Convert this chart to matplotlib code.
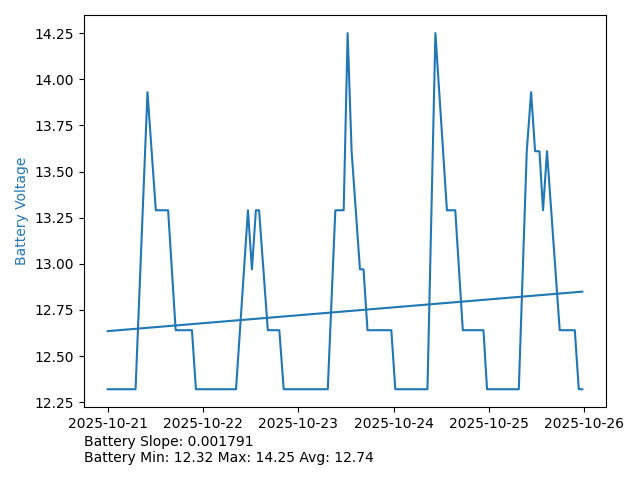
import datetime as dt
import matplotlib
matplotlib.use("Agg")
import matplotlib.pyplot as plt
import numpy as np

# battery voltage readings, hours since 2025-10-21 00:00
start = dt.datetime(2025, 10, 21)
hours = [0.0, 7.0, 10.0, 12.1, 15.2, 17.1, 21.2, 22.2, 32.3, 35.3, 36.3, 37.3, 38.1,
         40.3, 43.2, 44.3, 55.4, 57.3, 59.4, 60.4, 61.4, 63.5, 64.4, 65.4, 71.4,
         72.4, 80.5, 82.5, 85.4, 87.5, 89.4, 94.6, 95.5, 103.5, 105.5, 106.6,
         107.6, 108.7, 109.6, 110.6, 113.8, 117.6, 118.6, 119.5]
voltage = [12.32, 12.32, 13.93, 13.29, 13.29, 12.64, 12.64, 12.32, 12.32, 13.29, 12.97,
           13.29, 13.29, 12.64, 12.64, 12.32, 12.32, 13.29, 13.29, 14.25, 13.61, 12.97,
           12.97, 12.64, 12.64, 12.32, 12.32, 14.25, 13.29, 13.29, 12.64, 12.64, 12.32,
           12.32, 13.61, 13.93, 13.61, 13.61, 13.29, 13.61, 12.64, 12.64, 12.32, 12.32]

# linear trend (per hour)
slope = 0.001791
intercept = 12.635
v_min, v_max, v_avg = 12.32, 14.25, 12.74

times = [start + dt.timedelta(hours=h) for h in hours]
trend = [intercept + slope * h for h in (hours[0], hours[-1])]
trend_times = [times[0], times[-1]]

fig, ax = plt.subplots(figsize=(6.4, 4.8), dpi=100)
ax.plot(times, voltage, color="tab:blue")
ax.plot(trend_times, trend, color="tab:blue")
ax.set_ylabel("Battery Voltage", color="tab:blue")

fig.subplots_adjust(left=0.1313, right=0.947, top=0.968, bottom=0.152)
fig.text(0.1313, 0.031,
         "Battery Slope: %.6f\nBattery Min: %.2f Max: %.2f Avg: %.2f" % (slope, v_min, v_max, v_avg),
         ha="left", va="bottom")

fig.savefig("out.png")
